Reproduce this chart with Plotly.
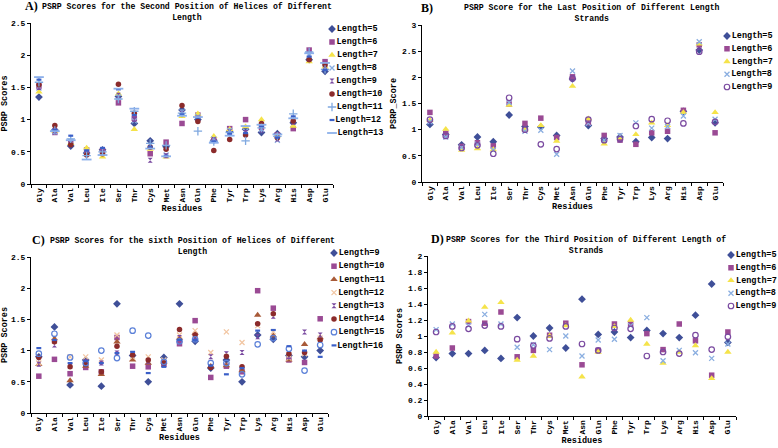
import plotly.graph_objects as go

residues = ["Gly","Ala","Val","Leu","Ile","Ser","Thr","Cys","Met","Asn","Gln","Phe","Tyr","Trp","Lys","Arg","His","Asp","Glu"]

# Panel A: second position of helices
A_len5  = [1.35,0.84,0.59,0.48,0.53,1.36,0.94,0.67,0.58,1.15,1.00,0.68,0.82,0.85,0.80,0.78,0.95,1.93,1.75]
A_len6  = [1.52,0.80,0.65,0.53,0.52,1.26,1.02,0.47,0.65,0.94,1.07,0.68,0.86,1.00,0.88,0.76,0.86,2.08,1.90]
A_len7  = [1.43,0.82,0.63,0.56,0.42,1.40,0.85,0.54,0.42,1.05,1.09,0.74,0.85,0.89,1.00,0.75,0.90,1.90,1.82]
A_len8  = [1.49,0.81,0.66,0.50,0.48,1.35,0.98,0.60,0.45,1.12,1.05,0.70,0.83,0.82,0.85,0.68,1.00,2.00,1.80]
A_len9  = [1.50,0.83,0.62,0.47,0.49,1.38,1.00,0.37,0.44,1.10,1.02,0.69,0.81,0.80,0.84,0.70,0.96,1.95,1.83]
A_len10 = [1.54,0.91,0.61,0.45,0.47,1.55,1.10,0.57,0.54,1.22,0.97,0.52,0.69,0.76,0.94,0.72,0.98,1.93,1.85]
A_len11 = [1.58,0.83,0.70,0.44,0.50,1.32,1.13,0.63,0.60,1.10,0.82,0.66,0.80,0.67,0.87,0.74,1.09,2.05,1.78]
A_len12 = [1.62,0.84,0.75,0.52,0.56,1.47,1.07,0.58,0.44,1.08,1.03,0.66,0.78,0.79,0.90,0.72,1.05,1.98,1.77]
A_len13 = [1.66,0.82,0.68,0.38,0.45,1.48,1.17,0.55,0.43,1.06,1.04,0.64,0.75,0.90,0.92,0.77,1.02,2.03,1.88]

# Panel B: last position of strands
B_len5 = [1.10,0.91,0.71,0.86,0.77,1.28,1.06,1.05,0.89,1.97,1.08,0.83,0.86,0.77,0.85,0.83,1.35,2.52,1.13]
B_len6 = [1.33,0.93,0.68,0.75,0.69,1.49,1.12,1.22,0.85,2.01,1.13,0.89,0.80,0.72,0.94,0.97,1.37,2.62,0.94]
B_len7 = [1.18,1.01,0.61,0.64,0.62,1.47,1.00,1.08,0.78,1.83,1.21,0.73,0.85,0.91,1.13,1.08,1.33,2.64,1.33]
B_len8 = [1.15,0.86,0.66,0.72,0.61,1.52,0.97,0.99,0.53,2.12,1.12,0.80,0.89,1.13,1.03,1.06,1.26,2.68,1.20]
B_len9 = [1.19,0.88,0.65,0.70,0.54,1.61,1.00,0.72,0.63,1.98,1.19,0.80,0.82,1.07,1.20,1.17,1.12,2.49,1.15]

# Panel C: sixth position of helices
C_len9  = [0.90,1.38,0.45,0.85,0.43,1.75,0.92,0.50,0.89,1.75,1.15,0.72,0.85,0.50,1.25,1.18,0.92,0.90,1.00]
C_len10 = [0.59,0.86,0.63,0.73,0.66,1.21,0.75,0.74,0.78,1.11,1.48,0.57,0.75,0.66,1.96,1.68,0.85,0.81,1.51]
C_len11 = [0.78,1.19,0.52,0.75,0.62,1.14,0.85,0.80,0.82,1.20,1.28,0.75,0.76,0.68,1.57,1.24,0.85,1.10,1.21]
C_len12 = [0.80,1.15,0.90,0.90,0.85,1.25,0.90,0.90,0.85,1.25,1.32,0.97,1.30,1.13,1.40,1.30,0.88,0.95,1.20]
C_len13 = [0.78,1.09,0.75,0.82,0.80,0.96,0.95,0.83,0.80,1.21,1.22,0.90,0.95,0.97,1.22,1.55,0.90,1.30,1.25]
C_len14 = [0.89,1.14,0.74,0.78,0.66,1.07,0.93,0.85,0.80,1.34,1.25,0.73,0.91,0.74,1.43,1.59,0.95,0.97,1.17]
C_len15 = [0.95,1.27,0.89,0.80,1.00,0.88,1.32,1.24,0.82,1.15,1.18,0.80,0.80,0.62,1.10,1.20,1.03,0.68,1.09]
C_len16 = [1.04,1.17,0.80,0.83,0.80,0.96,0.98,0.64,0.74,1.17,1.17,0.76,0.62,0.72,1.32,1.33,1.07,1.00,0.90]

# Panel D: third position of strands
D_len5 = [0.73,0.78,0.78,0.82,0.72,1.23,1.00,1.10,0.85,1.46,1.02,1.05,0.98,1.07,1.03,0.98,1.26,1.65,0.92]
D_len6 = [0.75,0.85,1.18,1.16,1.30,0.74,0.82,1.01,1.16,0.64,0.82,1.15,1.15,1.03,0.83,1.15,0.94,0.51,1.05]
D_len7 = [0.80,1.04,1.19,1.36,1.42,0.70,0.75,1.00,1.13,0.49,0.80,1.12,1.20,0.90,0.66,0.80,0.88,0.47,0.80]
D_len8 = [1.08,1.15,1.13,1.27,1.15,0.86,0.89,0.83,1.00,0.75,0.95,0.96,1.13,1.23,0.69,0.82,0.79,0.72,0.90]
D_len9 = [1.05,1.12,1.09,1.13,1.12,0.96,0.88,0.97,1.12,0.90,0.82,1.10,1.09,0.75,0.80,0.78,1.01,0.83,0.99]

W, H = 778, 448
MONO = "Liberation Mono"

# marker styles
S = {
    "diamond": dict(symbol="diamond", color="#3f4f98", size=6),
    "square": dict(symbol="square", color="#9a4a94", size=5.5),
    "tri_y": dict(symbol="triangle-up", color="#f5e34a", size=6.5),
    "tri_b": dict(symbol="triangle-up", color="#a85a38", size=6.5),
    "x_lb": dict(symbol="x-thin-open", color="#8aaee0", size=5, lw=1.3),
    "x_pe": dict(symbol="x-thin-open", color="#f2c6a2", size=5, lw=1.3),
    "star": dict(symbol="hourglass", color="#7a4aa0", size=5),
    "dred": dict(symbol="circle", color="#8b2b2b", size=5.5),
    "plus": dict(symbol="cross-thin-open", color="#7fa8e0", size=6, lw=1.3),
    "dash_s": dict(symbol="line-ew-open", color="#3a5fc8", size=3.5, lw=2.2),
    "dash_l": dict(symbol="line-ew-open", color="#8cb0ea", size=7, lw=1.8),
    "circ_p": dict(symbol="circle-open", color="#7a4aa0", size=5.5, lw=1.2),
    "circ_b": dict(symbol="circle-open", color="#5b80d8", size=5.5, lw=1.2),
}

def mk(st):
    m = dict(symbol=st["symbol"], color=st["color"], size=st["size"])
    if "lw" in st:
        m["line"] = dict(color=st["color"], width=st["lw"])
    else:
        m["line"] = dict(width=0)
    return m

panels = [
    dict(series=[("Length=5", A_len5, "diamond"), ("Length=6", A_len6, "square"), ("Length=7", A_len7, "tri_y"),
                 ("Length=8", A_len8, "x_lb"), ("Length=9", A_len9, "star"), ("Length=10", A_len10, "dred"),
                 ("Length=11", A_len11, "plus"), ("Length=12", A_len12, "dash_s"), ("Length=13", A_len13, "dash_l")],
         xdom=(31, 333), ydom=(23, 184), yr=2.5, dt=0.5,
         ytitle="PSRP Scores", letter="A)", title="PSRP Scores for the Second Position of Helices of Different<br>Length",
         tx=187, ty=11.5, lx=32, ly=6, leg_x=332, leg_y0=29, leg_dy=13),
    dict(series=[("Length=5", B_len5, "diamond"), ("Length=6", B_len6, "square"), ("Length=7", B_len7, "tri_y"),
                 ("Length=8", B_len8, "x_lb"), ("Length=9", B_len9, "circ_p")],
         xdom=(422, 723), ydom=(25, 182), yr=3, dt=0.5,
         ytitle="PSRP_Score", letter="B)", title="PSRP Score for the Last Position of Different Length<br>Strands",
         tx=592, ty=13, lx=427, ly=8, leg_x=727, leg_y0=36, leg_dy=12.75),
    dict(series=[("Length=9", C_len9, "diamond"), ("Length=10", C_len10, "square"), ("Length=11", C_len11, "tri_b"),
                 ("Length=12", C_len12, "x_pe"), ("Length=13", C_len13, "star"), ("Length=14", C_len14, "dred"),
                 ("Length=15", C_len15, "circ_b"), ("Length=16", C_len16, "dash_s")],
         xdom=(31, 328), ydom=(257, 413), yr=2.5, dt=0.5,
         ytitle="PSRP Scores", letter="C)", title="PSRP Scores for the sixth Position of Helices of Different<br>Length",
         tx=192, ty=245.5, lx=38, ly=240, leg_x=334, leg_y0=253, leg_dy=13.2),
    dict(series=[("Length=5", D_len5, "diamond"), ("Length=6", D_len6, "square"), ("Length=7", D_len7, "tri_y"),
                 ("Length=8", D_len8, "x_lb"), ("Length=9", D_len9, "circ_p")],
         xdom=(428, 736), ydom=(256, 416), yr=2, dt=0.2,
         ytitle="PSRP Scores", letter="D)", title="PSRP Scores for the Third Position of Different Length of<br>Strands",
         tx=586, ty=245, lx=437, ly=239, leg_x=731, leg_y0=255, leg_dy=12.75),
]

fig = go.Figure()
layout = dict(width=W, height=H, margin=dict(l=0, r=0, t=0, b=0, autoexpand=False), paper_bgcolor="white",
              plot_bgcolor="white", showlegend=False, annotations=[])

for i, p in enumerate(panels):
    k = i + 1
    xa = "x" if k == 1 else f"x{k}"
    ya = "y" if k == 1 else f"y{k}"
    for name, vals, st in p["series"]:
        fig.add_trace(go.Scatter(x=residues, y=vals, mode="markers", name=name,
                                 marker=mk(S[st]), xaxis=xa, yaxis=ya, cliponaxis=False))
    x0, x1 = p["xdom"]; yt, yb = p["ydom"]
    layout[f"xaxis{'' if k == 1 else k}"] = dict(
        domain=[x0 / W, x1 / W], anchor=ya, type="category", range=[-0.5, 18.5], automargin=False,
        showline=True, linecolor="black", linewidth=1, ticks="outside", ticklen=3, tickcolor="black",
        tickson="boundaries", tickangle=-90, showgrid=False, zeroline=False,
        tickfont=dict(family=MONO, size=8, color="black", weight="bold"),
        title=dict(text="Residues", font=dict(family=MONO, size=8.5, color="black", weight="bold"), standoff=3))
    layout[f"yaxis{'' if k == 1 else k}"] = dict(
        domain=[1 - yb / H, 1 - yt / H], anchor=xa, range=[0, p["yr"]], dtick=p["dt"], automargin=False,
        showline=True, linecolor="black", linewidth=1, ticks="outside", ticklen=3, tickcolor="black",
        showgrid=False, zeroline=False,
        tickfont=dict(family=MONO, size=8, color="black", weight="bold"),
        title=dict(text=p["ytitle"], font=dict(family=MONO, size=8.5, color="black", weight="bold"), standoff=4))
    layout["annotations"].append(dict(text=p["title"], x=p["tx"] / W, y=1 - p["ty"] / H, xref="paper", yref="paper",
                                      showarrow=False, xanchor="center", yanchor="middle", align="center",
                                      font=dict(family=MONO, size=8.2, color="black", weight="bold")))
    layout["annotations"].append(dict(text=p["letter"], x=p["lx"] / W, y=1 - p["ly"] / H, xref="paper", yref="paper",
                                      showarrow=False, xanchor="center", yanchor="middle",
                                      font=dict(family="Liberation Serif", size=12, color="black", weight="bold")))
    # legend drawn on a hidden axis: one row per series
    n = len(p["series"])
    lk = k + 4
    top = p["leg_y0"] - p["leg_dy"] / 2
    bot = p["leg_y0"] + p["leg_dy"] * (n - 1) + p["leg_dy"] / 2
    for j, (name, vals, st) in enumerate(p["series"]):
        fig.add_trace(go.Scatter(x=[0], y=[j], mode="markers+text", text=[name], textposition="middle right",
                                 textfont=dict(family=MONO, size=8.5, color="black", weight="bold"),
                                 marker=mk(S[st]), xaxis=f"x{lk}", yaxis=f"y{lk}", cliponaxis=False,
                                 hoverinfo="skip", showlegend=False))
    layout[f"xaxis{lk}"] = dict(domain=[p["leg_x"] / W, min(1, (p["leg_x"] + 40) / W)], anchor=f"y{lk}",
                               range=[0, 1], visible=False, automargin=False)
    layout[f"yaxis{lk}"] = dict(domain=[1 - bot / H, 1 - top / H], anchor=f"x{lk}",
                               range=[n - 0.5, -0.5], visible=False, automargin=False)

fig.update_layout(**layout)
fig.write_html("out.html", config={"displayModeBar": False},
               post_script="document.body.style.margin='0';document.body.style.overflow='hidden';")
